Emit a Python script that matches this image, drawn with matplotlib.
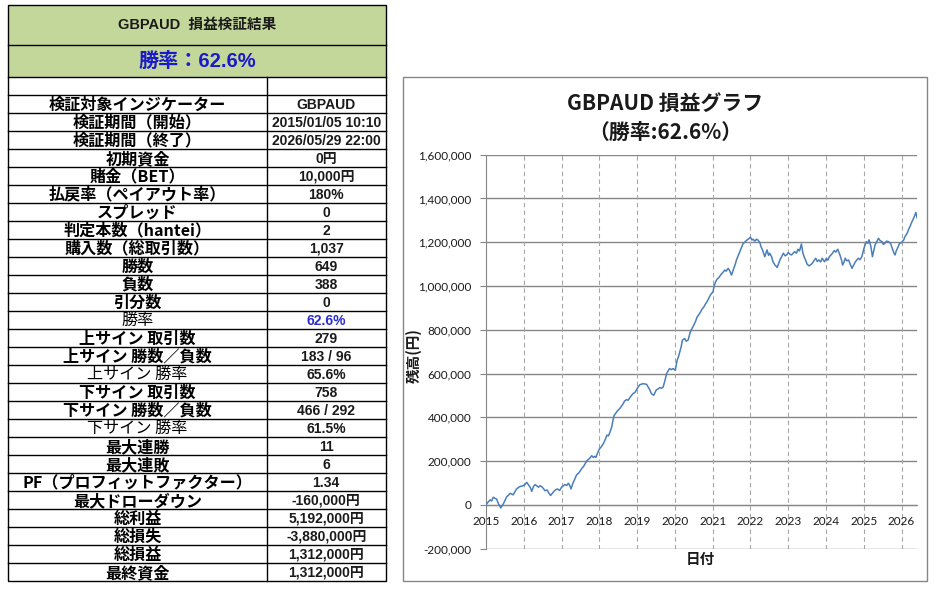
import matplotlib.pyplot as plt
from matplotlib.patches import Rectangle
from matplotlib.ticker import FuncFormatter

# table text
table_title = 'GBPAUD  損益検証結果'
table_winrate = '勝率：62.6%'
row_labels = ['検証対象インジケーター', '検証期間（開始）', '検証期間（終了）', '初期資金',
              '賭金（BET）', '払戻率（ペイアウト率）', 'スプレッド', '判定本数（hantei）',
              '購入数（総取引数）', '勝数', '負数', '引分数', '勝率',
              '上サイン 取引数', '上サイン 勝数／負数', '上サイン 勝率',
              '下サイン 取引数', '下サイン 勝数／負数', '下サイン 勝率',
              '最大連勝', '最大連敗', 'PF（プロフィットファクター）', '最大ドローダウン',
              '総利益', '総損失', '総損益', '最終資金']
row_values = ['GBPAUD', '2015/01/05 10:10', '2026/05/29 22:00', '0円',
              '10,000円', '180%', '0', '2',
              '1,037', '649', '388', '0', '62.6%',
              '279', '183 / 96', '65.6%',
              '758', '466 / 292', '61.5%',
              '11', '6', '1.34', '-160,000円',
              '5,192,000円', '-3,880,000円', '1,312,000円', '1,312,000円']

# equity curve (year, balance in thousand yen)
dates = [2015.00, 2015.05, 2015.11, 2015.15, 2015.19, 2015.24, 2015.28, 2015.33, 2015.39, 2015.46,
         2015.50, 2015.55, 2015.60, 2015.64, 2015.72, 2015.77, 2015.81, 2015.86, 2015.90, 2015.99,
         2016.04, 2016.08, 2016.13, 2016.17, 2016.21, 2016.26, 2016.30, 2016.35, 2016.39, 2016.43,
         2016.47, 2016.52, 2016.56, 2016.62, 2016.66, 2016.71, 2016.75, 2016.80, 2016.85, 2016.89,
         2016.95, 2017.00, 2017.05, 2017.09, 2017.14, 2017.18, 2017.22, 2017.25, 2017.31, 2017.35,
         2017.40, 2017.45, 2017.49, 2017.54, 2017.58, 2017.63, 2017.67, 2017.71, 2017.75, 2017.80,
         2017.84, 2017.88, 2017.91, 2017.96, 2018.00, 2018.05, 2018.11, 2018.16, 2018.20, 2018.24,
         2018.27, 2018.33, 2018.36, 2018.39, 2018.44, 2018.48, 2018.54, 2018.58, 2018.63, 2018.67,
         2018.72, 2018.76, 2018.81, 2018.85, 2018.89, 2018.95, 2019.00, 2019.07, 2019.16, 2019.25,
         2019.32, 2019.38, 2019.44, 2019.48, 2019.51, 2019.56, 2019.60, 2019.65, 2019.69, 2019.74,
         2019.78, 2019.82, 2019.86, 2019.91, 2019.95, 2020.01, 2020.06, 2020.10, 2020.13, 2020.17,
         2020.20, 2020.26, 2020.30, 2020.35, 2020.41, 2020.45, 2020.50, 2020.55, 2020.59, 2020.63,
         2020.68, 2020.72, 2020.77, 2020.81, 2020.85, 2020.90, 2020.94, 2021.01, 2021.04, 2021.08,
         2021.12, 2021.17, 2021.23, 2021.27, 2021.32, 2021.36, 2021.41, 2021.45, 2021.50, 2021.56,
         2021.60, 2021.63, 2021.68, 2021.72, 2021.76, 2021.81, 2021.85, 2021.89, 2021.95, 2022.00,
         2022.04, 2022.07, 2022.12, 2022.16, 2022.20, 2022.25, 2022.28, 2022.32, 2022.38, 2022.41,
         2022.44, 2022.48, 2022.51, 2022.56, 2022.60, 2022.65, 2022.71, 2022.74, 2022.78, 2022.83,
         2022.87, 2022.92, 2022.96, 2023.00, 2023.05, 2023.09, 2023.13, 2023.17, 2023.22, 2023.26,
         2023.30, 2023.35, 2023.39, 2023.43, 2023.46, 2023.50, 2023.55, 2023.60, 2023.64, 2023.68,
         2023.73, 2023.77, 2023.81, 2023.86, 2023.90, 2023.96, 2024.01, 2024.05, 2024.09, 2024.15,
         2024.22, 2024.26, 2024.31, 2024.37, 2024.41, 2024.44, 2024.48, 2024.51, 2024.55, 2024.60,
         2024.64, 2024.69, 2024.73, 2024.78, 2024.82, 2024.86, 2024.90, 2024.95, 2025.00, 2025.03,
         2025.07, 2025.11, 2025.14, 2025.19, 2025.23, 2025.27, 2025.30, 2025.35, 2025.39, 2025.43,
         2025.48, 2025.52, 2025.56, 2025.60, 2025.65, 2025.71, 2025.74, 2025.77, 2025.80, 2025.83,
         2025.86, 2025.89, 2025.92, 2025.95, 2026.00, 2026.03, 2026.06, 2026.09, 2026.12, 2026.16,
         2026.19, 2026.22, 2026.26, 2026.29, 2026.32, 2026.35, 2026.38, 2026.41]
balance_k = [0, 12, 23, 18, 35, 30, 27, 5, -14, 5,
             20, 38, 45, 53, 46, 62, 73, 80, 84, 88,
             95, 103, 90, 81, 62, 85, 93, 86, 81, 88,
             84, 75, 65, 68, 55, 43, 52, 62, 70, 73,
             66, 81, 88, 93, 89, 99, 88, 73, 103, 118,
             138, 145, 154, 168, 175, 190, 202, 208, 214, 225,
             217, 222, 217, 240, 255, 265, 281, 300, 319, 315,
             327, 357, 385, 408, 420, 430, 440, 450, 462, 475,
             481, 478, 490, 500, 508, 515, 531, 549, 554, 551,
             531, 508, 501, 515, 526, 530, 536, 533, 539, 570,
             600, 612, 623, 618, 623, 615, 661, 680, 699, 725,
             753, 760, 748, 753, 791, 805, 821, 840, 859, 868,
             882, 895, 905, 918, 928, 945, 959, 974, 1000, 1020,
             1032, 1040, 1055, 1062, 1073, 1068, 1081, 1070, 1050, 1081,
             1100, 1119, 1140, 1157, 1175, 1195, 1200, 1208, 1215, 1223,
             1210, 1214, 1205, 1214, 1210, 1198, 1180, 1165, 1134, 1150,
             1165, 1140, 1150, 1134, 1110, 1096, 1085, 1100, 1119, 1135,
             1150, 1138, 1142, 1153, 1145, 1142, 1150, 1157, 1150, 1168,
             1160, 1192, 1150, 1130, 1119, 1100, 1092, 1098, 1104, 1115,
             1127, 1112, 1119, 1110, 1127, 1111, 1127, 1118, 1134, 1145,
             1162, 1155, 1168, 1142, 1120, 1096, 1110, 1127, 1115, 1119,
             1100, 1081, 1095, 1111, 1120, 1127, 1120, 1134, 1168, 1185,
             1203, 1195, 1211, 1180, 1134, 1165, 1188, 1205, 1218, 1208,
             1203, 1190, 1195, 1205, 1203, 1195, 1180, 1165, 1150, 1142,
             1160, 1172, 1185, 1195, 1198, 1205, 1211, 1225, 1234, 1245,
             1260, 1270, 1287, 1298, 1310, 1322, 1336, 1312]
balance = [v * 1000 for v in balance_k]
year_ticks = list(range(2015, 2027))
y_ticks = list(range(-200000, 1600001, 200000))

chart_title = 'GBPAUD 損益グラフ\n（勝率:62.6%）'
x_label = '日付'
y_label = '残高(円)'

# rows drawn in thin (non bold) style, and value shown in blue
plain_rows = ['勝率', '上サイン 勝率', '下サイン 勝率']
blue_rows = ['勝率']

W, H = 937, 592
fig = plt.figure(figsize=(W / 100, H / 100), dpi=100)

jp = ['Noto Sans CJK JP']
num = ['Liberation Sans', 'Noto Sans CJK JP']

# ---- table, drawn in pixel coordinates ----
tab = fig.add_axes([0, 0, 1, 1])
tab.set_xlim(0, W)
tab.set_ylim(H, 0)
tab.axis('off')

left, mid, right = 8.3, 266.7, 385.7
top, h1, h2 = 5.0, 45.0, 77.3
row_h = 18.0
first_row = h2 + row_h
bottom = first_row + row_h * len(row_labels)
green = '#c4d79b'

tab.add_patch(Rectangle((left, top), right - left, h2 - top, facecolor=green, edgecolor='none'))
tab.add_patch(Rectangle((left, top), right - left, bottom - top, facecolor='none',
                        edgecolor='black', lw=1.0))
tab.plot([left, right], [h1, h1], color='black', lw=1.0)
tab.plot([left, right], [h2, h2], color='black', lw=1.0)
tab.plot([mid, mid], [h2, bottom], color='black', lw=1.0)
for i in range(len(row_labels)):
    y = first_row + row_h * i
    tab.plot([left, right], [y, y], color='black', lw=1.0)

tab.text((left + right) / 2, (top + h1) / 2, table_title, ha='center', va='center',
         fontsize=10.5, family=num, weight='bold', color='#1a1a1a')
tab.text((left + right) / 2, (h1 + h2) / 2 + 0.5, table_winrate, ha='center', va='center',
         fontsize=14.5, family=num, weight='bold', color='#1a1acc')

for i, (lab, val) in enumerate(zip(row_labels, row_values)):
    yc = first_row + row_h * i + row_h / 2 + 0.5
    tab.text((left + mid) / 2, yc, lab, ha='center', va='center', fontsize=11.6,
             family=jp, weight='normal' if lab in plain_rows else 'bold', color='black')
    tab.text((mid + right) / 2, yc, val, ha='center', va='center', fontsize=10,
             family=num, weight='bold', color='#2d2dcc' if lab in blue_rows else '#1a1a1a')

# chart frame
tab.add_patch(Rectangle((403.3, 77.3), 927.3 - 403.3, 580.7 - 77.3, facecolor='white',
                        edgecolor='#868686', lw=1.0))

# ---- equity chart ----
px_l, px_r, px_t, px_b = 486, 917, 154.7, 548.7
ax = fig.add_axes([px_l / W, (H - px_b) / H, (px_r - px_l) / W, (px_b - px_t) / H])
ax.plot(dates, balance, color='#4a7ebb', lw=1.1, zorder=3)

ax.set_xlim(2015.0, 2026.41)
ax.set_ylim(-200000, 1600000)
ax.set_yticks(y_ticks)
ax.yaxis.set_major_formatter(FuncFormatter(lambda v, p: f'{int(v):,}'))
ax.set_xticks(year_ticks)
ax.set_xticklabels([str(y) for y in year_ticks])

for y in y_ticks:
    ax.axhline(y, color='#868686', lw=1.0, zorder=1)
for x in year_ticks[1:]:
    ax.axvline(x, color='#a6a6a6', lw=0.8, ls=(0, (4, 3)), zorder=1)

for s in ['top', 'right']:
    ax.spines[s].set_visible(False)
ax.spines['left'].set_color('#868686')
ax.spines['bottom'].set_position(('data', 0))
ax.spines['bottom'].set_color('#868686')

ax.tick_params(axis='y', length=4.5, color='#868686', pad=6, labelsize=8.5,
               labelcolor='#1a1a1a')
ax.tick_params(axis='x', length=0, pad=8, labelsize=8.5, labelcolor='#1a1a1a')
for t in ax.get_xticklabels() + ax.get_yticklabels():
    t.set_family('Lato')

fig.text(665 / W, 1 - 118 / H, chart_title, ha='center', va='center', fontsize=15,
         family=jp, weight='bold', color='#1a1a1a', linespacing=1.45)
fig.text(414 / W, 1 - 356 / H, y_label, ha='center', va='center', rotation=90,
         fontsize=10.5, family=jp, weight='bold', color='#1a1a1a')
fig.text(700 / W, 1 - 559 / H, x_label, ha='center', va='center',
         fontsize=10.5, family=jp, weight='bold', color='#1a1a1a')

fig.savefig('out.png', dpi=100)
